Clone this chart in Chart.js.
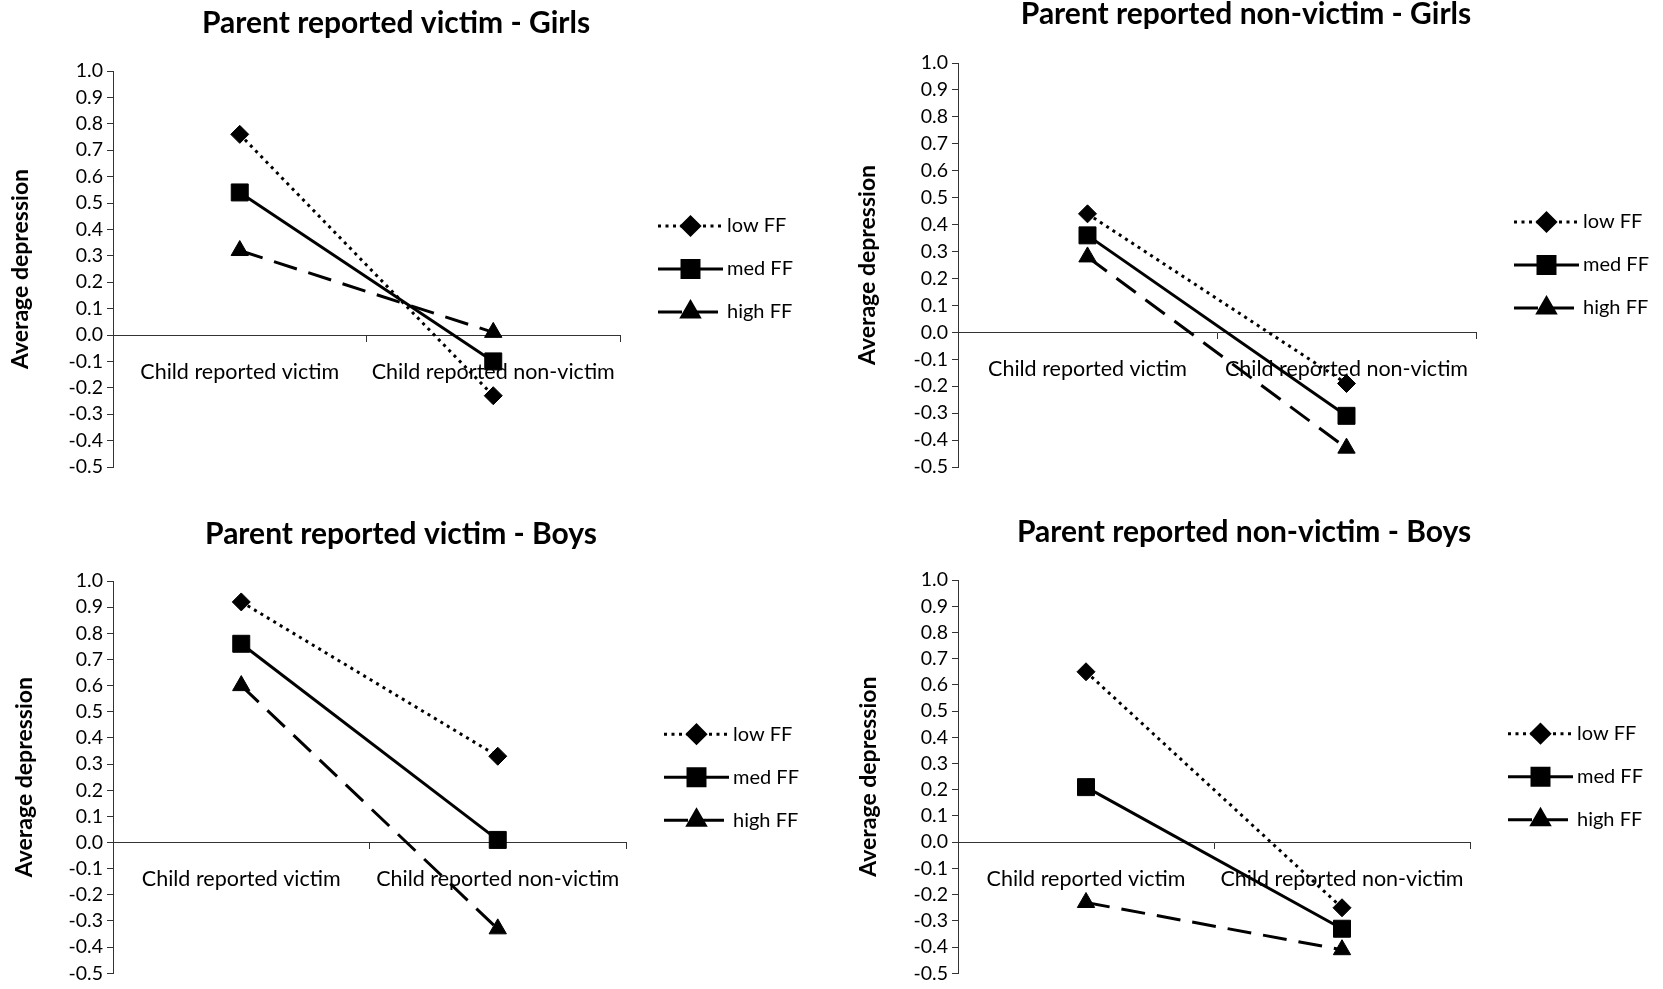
<!DOCTYPE html>
<html>
<head>
<meta charset="utf-8">
<script src="https://cdn.jsdelivr.net/npm/chart.js@4.4.1/dist/chart.umd.min.js"></script>
<style>
  html, body { margin: 0; padding: 0; background: #fff; }
  body { width: 1663px; height: 989px; position: relative; overflow: hidden; }
  canvas { position: absolute; }
</style>
</head>
<body>
<canvas id="g1" width="831" height="494" style="left:0;top:0"></canvas>
<canvas id="g2" width="832" height="494" style="left:831px;top:0"></canvas>
<canvas id="g3" width="831" height="495" style="left:0;top:494px"></canvas>
<canvas id="g4" width="832" height="495" style="left:831px;top:494px"></canvas>
<script>
// Categorias del eje x y nombres de las series
const categorias = ["Child reported victim", "Child reported non-victim"];
const nombresSeries = ["low FF", "med FF", "high FF"];
const titulos = [
  "Parent reported victim - Girls",
  "Parent reported non-victim - Girls",
  "Parent reported victim - Boys",
  "Parent reported non-victim - Boys",
];
const tituloEjeY = "Average depression";

// Valores (low, med, high)
const victimaNinasLow = [0.76, -0.23];
const victimaNinasMed = [0.54, -0.10];
const victimaNinasHigh = [0.32, 0.01];

const noVictimaNinasLow = [0.44, -0.19];
const noVictimaNinasMed = [0.36, -0.31];
const noVictimaNinasHigh = [0.28, -0.43];

const victimaNinosLow = [0.92, 0.33];
const victimaNinosMed = [0.76, 0.01];
const victimaNinosHigh = [0.60, -0.33];

const noVictimaNinosLow = [0.65, -0.25];
const noVictimaNinosMed = [0.21, -0.33];
const noVictimaNinosHigh = [-0.23, -0.41];

const datosPaneles = [
  [victimaNinasLow, victimaNinasMed, victimaNinasHigh],
  [noVictimaNinasLow, noVictimaNinasMed, noVictimaNinasHigh],
  [victimaNinosLow, victimaNinosMed, victimaNinosHigh],
  [noVictimaNinosLow, noVictimaNinosMed, noVictimaNinosHigh],
];

/**
 * Estilos de cada serie (punteada, continua, rayada)
 */
const estilos = [
  { borderDash: [3, 4.5], pointStyle: "rectRot", pointRadius: 9 },
  { borderDash: [], pointStyle: "rect", pointRadius: 12 },
  { borderDash: [24, 12], pointStyle: "triangle", pointRadius: 10 },
];

// Ajustes de posicion de cada panel
const disposicion = [
  { id: "g1", padL: 7, padR: 46, padB: 27, anchoY: 106, tituloPad: { top: 5, bottom: 30 }, ejePad: 0 },
  { id: "g2", padL: 20, padR: 22, padB: 27, anchoY: 107, tituloPad: { top: -4, bottom: 31 }, ejePad: 3 },
  { id: "g3", padL: 11, padR: 40, padB: 12, anchoY: 102, tituloPad: { top: 22, bottom: 29 }, ejePad: 0 },
  { id: "g4", padL: 22, padR: 28, padB: 11, anchoY: 105, tituloPad: { top: 20, bottom: 30 }, ejePad: 2 },
];

Chart.defaults.font.family = "Lato, 'Open Sans', sans-serif";
Chart.defaults.color = "#000";

// Coloca la leyenda a la altura del area del grafico y dibuja linea + marcador
const simbolosLeyenda = {
  id: "simbolosLeyenda",
  afterLayout(chart) {
    const lg = chart.legend;
    const area = chart.chartArea;
    lg.top = area.top;
    lg.bottom = area.bottom;
    lg.height = area.bottom - area.top;
    lg.width += 50;
    lg.right = lg.left + lg.width;
  },
  afterDraw(chart) {
    const ctx = chart.ctx;
    const cajas = chart.legend.legendHitBoxes;
    cajas.forEach((caja, i) => {
      const ds = chart.data.datasets[i];
      const y = caja.top + caja.height / 2;
      const x0 = caja.left + 15;
      const x1 = x0 + 65;
      ctx.save();
      ctx.strokeStyle = "#000";
      ctx.fillStyle = "#000";
      ctx.lineWidth = ds.borderWidth;
      ctx.setLineDash(ds.borderDash);
      ctx.beginPath();
      ctx.moveTo(x0, y);
      ctx.lineTo(x1, y);
      ctx.stroke();
      ctx.setLineDash([]);
      Chart.helpers.drawPoint(
        ctx,
        { pointStyle: ds.pointStyle, radius: ds.pointRadius, borderWidth: 1, rotation: 0 },
        (x0 + x1) / 2,
        y
      );
      ctx.restore();
    });
  },
};

function crearPanel(indice) {
  const d = disposicion[indice];
  const datasets = datosPaneles[indice].map((valores, i) => ({
    label: nombresSeries[i],
    data: valores,
    borderColor: "#000",
    backgroundColor: "#000",
    borderWidth: 3,
    borderDash: estilos[i].borderDash,
    pointStyle: estilos[i].pointStyle,
    pointRadius: estilos[i].pointRadius,
    pointBackgroundColor: "#000",
    pointBorderColor: "#000",
    pointBorderWidth: 1,
    tension: 0,
  }));

  return new Chart(document.getElementById(d.id), {
    type: "line",
    data: { labels: categorias, datasets: datasets },
    plugins: [simbolosLeyenda],
    options: {
      responsive: false,
      animation: false,
      events: [],
      layout: { padding: { left: d.padL, right: d.padR, top: 0, bottom: d.padB } },
      plugins: {
        tooltip: { enabled: false },
        title: {
          display: true,
          text: titulos[indice],
          font: { size: 30, weight: "bold" },
          color: "#000",
          padding: d.tituloPad,
        },
        legend: {
          position: "right",
          align: "center",
          maxWidth: 165,
          labels: {
            font: { size: 20 },
            color: "#000",
            boxWidth: 74,
            padding: 23,
            generateLabels(chart) {
              return Chart.defaults.plugins.legend.labels.generateLabels(chart).map((item) => {
                item.fillStyle = "rgba(0,0,0,0)";
                item.strokeStyle = "rgba(0,0,0,0)";
                item.lineWidth = 0;
                return item;
              });
            },
          },
        },
      },
      scales: {
        x: {
          type: "category",
          position: { y: 0 },
          offset: true,
          grid: { offset: true, drawOnChartArea: false, drawTicks: true, tickLength: 6, color: "#333" },
          border: { display: true, color: "#333", width: 1 },
          ticks: { padding: 18, color: "#000", font: { size: 21.5 }, maxRotation: 0, autoSkip: false },
        },
        y: {
          min: -0.5,
          max: 1.0,
          afterFit(scale) {
            scale.width = d.anchoY;
          },
          grid: { drawOnChartArea: false, drawTicks: true, tickLength: 6, color: "#333" },
          border: { display: true, color: "#333", width: 1 },
          ticks: {
            stepSize: 0.1,
            autoSkip: false,
            padding: 4,
            color: "#000",
            font: { size: 19.5 },
            callback: (v) => (Math.round(v * 10) / 10).toFixed(1),
          },
          title: {
            display: true,
            text: tituloEjeY,
            font: { size: 23, weight: "bold" },
            color: "#000",
            padding: { top: d.ejePad, bottom: 0 },
          },
        },
      },
    },
  });
}

for (let i = 0; i < 4; i++) {
  crearPanel(i);
}
</script>
</body>
</html>
